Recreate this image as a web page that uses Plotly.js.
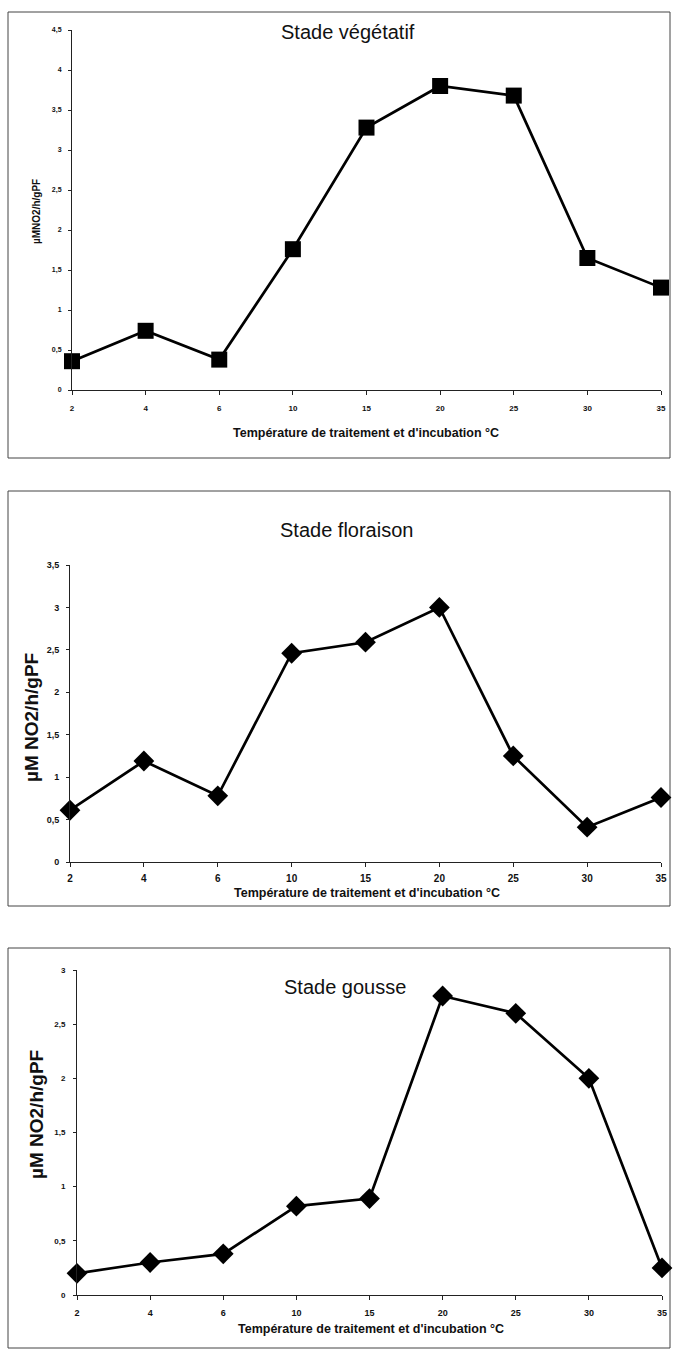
<!DOCTYPE html>
<html>
<head>
<meta charset="utf-8">
<script src="https://cdn.plot.ly/plotly-3.0.1.min.js"></script>
<style>html,body{margin:0;padding:0;background:#fff;}#chart{width:675px;height:1354px;}</style>
</head>
<body>
<div id="chart"></div>
<script>
const categories = ['2','4','6','10','15','20','25','30','35'];
const vegetatif = [0.36, 0.74, 0.38, 1.76, 3.28, 3.80, 3.68, 1.65, 1.28];
const floraison = [0.61, 1.19, 0.78, 2.46, 2.59, 3.00, 1.25, 0.41, 0.76];
const gousse = [0.20, 0.30, 0.38, 0.82, 0.89, 2.76, 2.60, 2.00, 0.25];
const titles = ['Stade végétatif', 'Stade floraison', 'Stade gousse'];
const xTitle = "Température de traitement et d'incubation °C";
const yTitles = ['µMNO2/h/gPF', 'µM NO2/h/gPF', 'µM NO2/h/gPF'];

const W = 675, H = 1354;
const px = v => v / W;
const py = v => 1 - v / H;

const font = 'Arial, "Liberation Sans", sans-serif';

function trace(y, xa, ya, symbol, size) {
  return {
    type: 'scatter', mode: 'lines+markers',
    x: categories, y: y, xaxis: xa, yaxis: ya,
    line: {color: '#000', width: 2.7},
    marker: {symbol: symbol, size: size, color: '#000', line: {width: 0}},
    cliponaxis: false, showlegend: false, hoverinfo: 'x+y'
  };
}

const data = [
  trace(vegetatif, 'x', 'y', 'square', 16),
  trace(floraison, 'x2', 'y2', 'diamond', 16),
  trace(gousse, 'x3', 'y3', 'diamond', 16)
];

function xaxis(domain, anchor, fs, standoff) {
  return {
    type: 'category', domain: domain, anchor: anchor, range: [0, 8],
    showline: true, linecolor: '#222', linewidth: 1,
    ticks: 'outside', ticklen: 4, tickcolor: '#222', tickwidth: 1,
    showgrid: false, zeroline: false,
    tickfont: {family: font, size: fs, color: '#111', weight: 'bold'},
    ticklabelstandoff: standoff, fixedrange: true
  };
}
function yaxis(domain, anchor, max, fs, standoff) {
  return {
    domain: domain, anchor: anchor, range: [0, max], dtick: 0.5, tick0: 0,
    showline: true, linecolor: '#222', linewidth: 1,
    ticks: 'outside', ticklen: 3, tickcolor: '#222', tickwidth: 1,
    showgrid: false, zeroline: false,
    tickfont: {family: font, size: fs, color: '#111', weight: 'bold'},
    ticklabelstandoff: standoff, fixedrange: true
  };
}

const layout = {
  width: W, height: H,
  margin: {l: 0, r: 0, t: 0, b: 0},
  paper_bgcolor: '#fff', plot_bgcolor: '#fff',
  separators: ', ',
  showlegend: false,
  xaxis: xaxis([px(72), px(661)], 'y', 8, 6),
  yaxis: yaxis([py(390), py(30)], 'x', 4.5, 7, 5),
  xaxis2: xaxis([px(70), px(661)], 'y2', 10, 3),
  yaxis2: yaxis([py(862), py(565)], 'x2', 3.5, 9, 5),
  xaxis3: xaxis([px(77), px(662)], 'y3', 9, 5),
  yaxis3: yaxis([py(1295), py(970)], 'x3', 3, 8, 6),
  shapes: [
    [8, 12, 670, 458], [8, 491, 670, 906], [8, 948, 670, 1348]
  ].map(r => ({type: 'rect', xref: 'paper', yref: 'paper',
    x0: px(r[0]), x1: px(r[2]), y0: py(r[3]), y1: py(r[1]),
    line: {color: '#444', width: 1}, fillcolor: 'rgba(0,0,0,0)', layer: 'below'})),
  annotations: [
    {text: titles[0], x: px(348), y: py(32), size: 20},
    {text: titles[1], x: px(346), y: py(530), size: 20},
    {text: titles[2], x: px(345), y: py(987), size: 20},
  ].map(a => ({text: a.text, x: a.x, y: a.y, xref: 'paper', yref: 'paper',
    xanchor: 'center', yanchor: 'middle', showarrow: false,
    font: {family: font, size: a.size, color: '#111'}}))
  .concat([
    {x: 366, y: 433, size: 12.5},
    {x: 367, y: 893, size: 12.5},
    {x: 371, y: 1329, size: 12.5}
  ].map(a => ({text: xTitle, x: px(a.x), y: py(a.y), xref: 'paper', yref: 'paper',
    xanchor: 'center', yanchor: 'middle', showarrow: false,
    font: {family: font, size: a.size, color: '#111', weight: 'bold'}})))
  .concat([
    {t: yTitles[0], x: 37, y: 212, size: 10},
    {t: yTitles[1], x: 31, y: 718, size: 19},
    {t: yTitles[2], x: 36, y: 1115, size: 19}
  ].map(a => ({text: a.t, x: px(a.x), y: py(a.y), xref: 'paper', yref: 'paper',
    xanchor: 'center', yanchor: 'middle', textangle: -90, showarrow: false,
    font: {family: font, size: a.size, color: '#111', weight: 'bold'}})))
};

Plotly.newPlot('chart', data, layout, {staticPlot: true, displayModeBar: false});
</script>
</body>
</html>
